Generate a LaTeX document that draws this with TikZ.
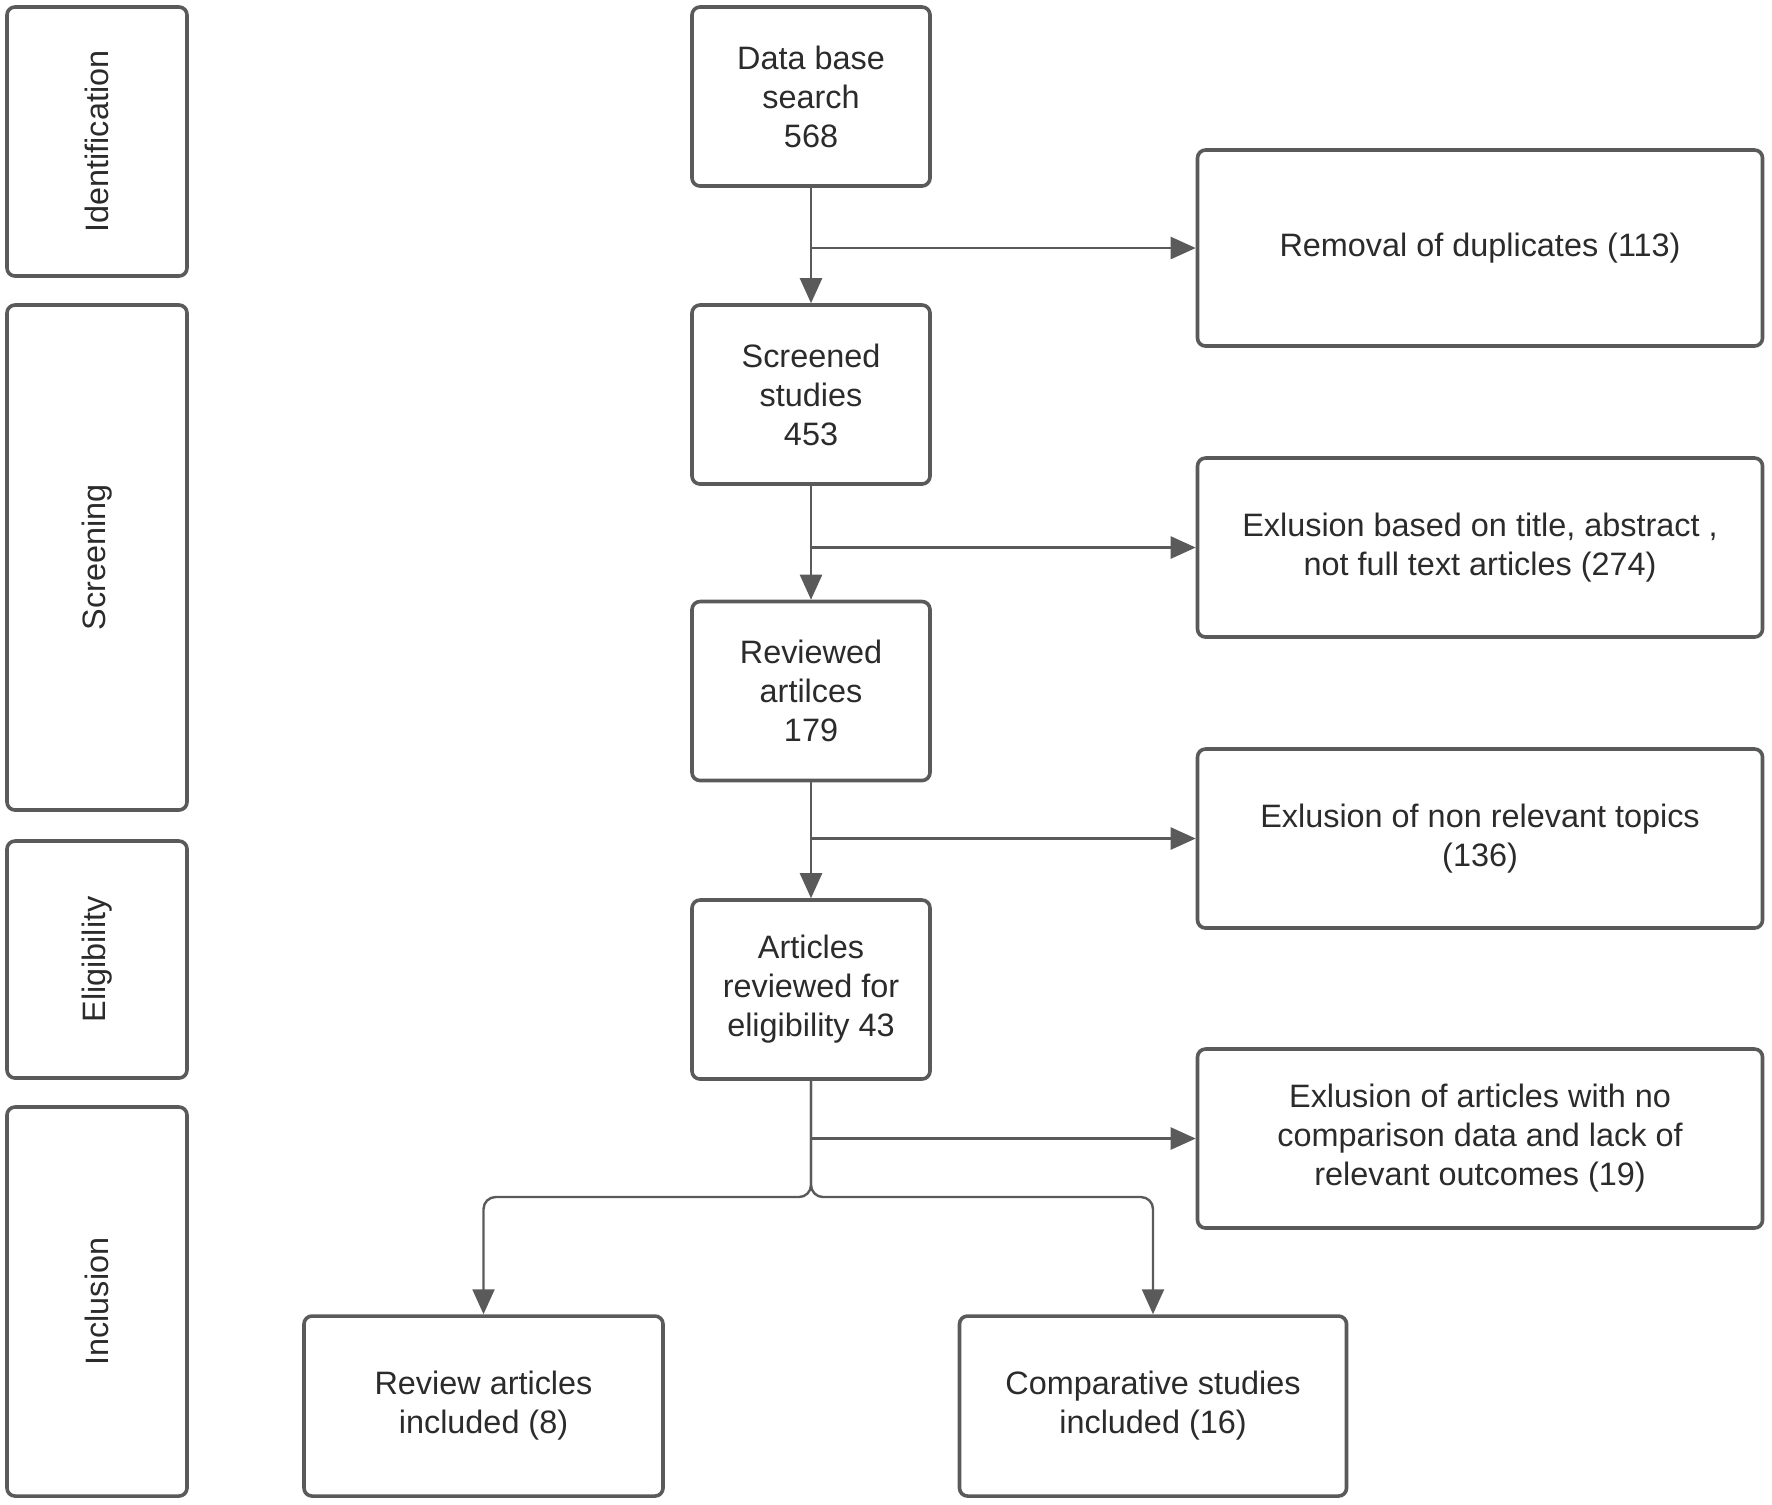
\documentclass[tikz,border=0pt]{standalone}
\usepackage{fontspec}
\setmainfont{Liberation Sans}
\usetikzlibrary{arrows.meta}
\definecolor{ln}{HTML}{5A5A5A}
\definecolor{tx}{HTML}{2B2B2B}
\begin{document}
\begin{tikzpicture}[x=0.25pt,y=-0.25pt,
  box/.style={draw=ln, line width=0.9pt, rounded corners=2pt, fill=white, text=tx,
    align=center, font=\fontsize{8.1}{9.75}\selectfont, inner sep=0pt},
  stage/.style={box, minimum width=45pt},
  mid/.style={box, minimum width=59.5pt, minimum height=44.75pt},
  side/.style={box, minimum width=141.25pt, minimum height=44.75pt},
  bot/.style={box, minimum height=45pt},
  conn/.style={draw=ln, line width=0.6pt},
  arr/.style={conn, -{Triangle[length=6.25pt,width=5.5pt]}}]
\useasboundingbox (0,0) rectangle (1772,1504);

% stage boxes
\node[stage, minimum height=67.25pt] (s1) at (97,141.5) {\rotatebox{90}{Identification}};
\node[stage, minimum height=126.25pt] (s2) at (97,557.5) {\rotatebox{90}{Screening}};
\node[stage, minimum height=59.25pt] (s3) at (97,959.5) {\rotatebox{90}{Eligibility}};
\node[stage, minimum height=97.25pt] (s4) at (97,1301.5) {\rotatebox{90}{Inclusion}};

% main column
\node[mid] (db) at (811,96.5) {Data base\\search\\568};
\node[mid] (scr) at (811,394.5) {Screened\\studies\\453};
\node[mid] (rv) at (811,691) {Reviewed\\artilces\\179};
\node[mid] (art) at (811,989.5) {Articles\\reviewed for\\eligibility 43};

% exclusion boxes
\node[side, minimum height=49pt] (rem) at (1480,248) {Removal of duplicates (113)};
\node[side] (ttl) at (1480,547.5) {Exlusion based on title, abstract ,\\not full text articles (274)};
\node[side] (nrel) at (1480,838.5) {Exlusion of non relevant topics\\(136)};
\node[side] (noc) at (1480,1138.5) {Exlusion of articles with no\\comparison data and lack of\\relevant outcomes (19)};

% included
\node[bot, minimum width=89.75pt] (rvw) at (483.5,1406) {Review articles\\included (8)};
\node[bot, minimum width=96.75pt] (cmp) at (1153,1406) {Comparative studies\\included (16)};

% connectors
\draw[arr] (db.south) -- (scr.north);
\draw[arr] (scr.south) -- (rv.north);
\draw[arr] (rv.south) -- (art.north);

\coordinate (j1) at (db.south |- rem.west);
\coordinate (j2) at (scr.south |- ttl.west);
\coordinate (j3) at (rv.south |- nrel.west);
\coordinate (j4) at (art.south |- noc.west);
\draw[arr] (j1) -- (rem.west);
\draw[arr] (j2) -- (ttl.west);
\draw[arr] (j3) -- (nrel.west);
\draw[arr] (j4) -- (noc.west);

\coordinate (br) at (811,1197);
\draw[arr, rounded corners=3pt] (art.south) -- (br) -| (rvw.north);
\draw[arr, rounded corners=3pt] (art.south) -- (br) -| (cmp.north);
\end{tikzpicture}
\end{document}
